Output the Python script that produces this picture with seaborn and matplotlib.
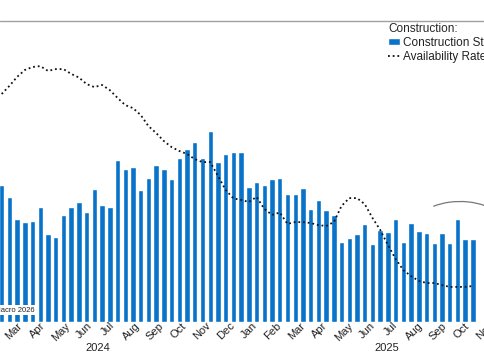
import pandas as pd
import seaborn as sns
import matplotlib.pyplot as plt
from matplotlib.lines import Line2D
from matplotlib.patches import Arc

# construction starts (bars) and availability rate (dotted line), one value per period
starts = [13.7, 12.5, 10.3, 10.0, 10.1, 11.5, 8.8, 8.5, 10.7, 11.5,
          12.0, 11.0, 13.3, 11.7, 11.5, 16.2, 15.3, 15.5, 13.2, 14.4,
          15.7, 15.3, 14.3, 16.4, 17.3, 18.0, 16.4, 19.1, 16.0, 16.8,
          17.0, 17.0, 13.5, 14.0, 13.7, 14.3, 14.4, 12.8, 12.8, 13.4,
          11.3, 12.2, 11.2, 10.7, 8.0, 8.4, 8.8, 9.8, 7.8, 9.2,
          9.0, 10.3, 8.0, 9.9, 9.1, 8.9, 7.9, 8.9, 7.9, 10.3,
          8.3, 8.3]
rate = [7.60, 7.87, 8.17, 8.40, 8.50, 8.53, 8.37, 8.43, 8.43, 8.27,
        8.15, 7.93, 7.83, 7.90, 7.73, 7.47, 7.23, 7.13, 6.90, 6.53,
        6.30, 6.03, 5.83, 5.70, 5.60, 5.43, 5.33, 5.33, 4.87, 4.40,
        4.12, 4.07, 4.00, 4.17, 3.77, 3.57, 3.65, 3.27, 3.33, 3.33,
        3.30, 3.23, 3.20, 3.33, 3.87, 4.13, 4.13, 3.93, 3.47, 3.07,
        2.57, 2.10, 1.73, 1.53, 1.37, 1.30, 1.30, 1.23, 1.17, 1.17,
        1.17, 1.20]
months = ['Mar', 'Apr', 'May', 'Jun', 'Jul', 'Aug', 'Sep', 'Oct', 'Nov', 'Dec',
          'Jan', 'Feb', 'Mar', 'Apr', 'May', 'Jun', 'Jul', 'Aug', 'Sep', 'Oct', 'Nov']
years = ['2024', '2025']

df = pd.DataFrame({'period': range(len(starts)), 'starts': starts, 'rate': rate})

sns.set_style('white')
plt.rcParams['font.family'] = ['Liberation Sans', 'DejaVu Sans']

W, H = 485, 360
fig = plt.figure(figsize=(W / 100, H / 100), dpi=100)
ax = fig.add_axes([0, (H - 322) / H, 1, 302 / H])

blue = '#0873c9'
sns.barplot(data=df, x='period', y='starts', color=blue, saturation=1,
            width=0.7, ax=ax)
ax2 = ax.twinx()
sns.lineplot(data=df, x='period', y='rate', ax=ax2, color='#111111',
             linestyle=(0, (1, 1.6)), linewidth=1.3)

# pixel layout: first bar centre at 1.7px, 7.9px pitch
pitch, x0 = 7.9, 1.7
ax.set_xlim(-x0 / pitch, (W - x0) / pitch)
ax.set_ylim(0, 30.2)
ax2.set_ylim(0, 302 / 30)

tick_pos = [(14 + 24.1 * k - x0) / pitch for k in range(len(months))]
ax.set_xticks(tick_pos)
ax.set_xticklabels(months, rotation=45, ha='center', fontsize=8, color='#222222')
ax.tick_params(axis='x', length=0, pad=-1)
ax.set_yticks([])
ax2.set_yticks([])
for a in (ax, ax2):
    a.set_xlabel('')
    a.set_ylabel('')
    for s in a.spines.values():
        s.set_visible(False)

fig.text(98 / W, 1 - 348 / H, years[0], ha='center', va='center', fontsize=8, color='#222222')
fig.text(386.5 / W, 1 - 348 / H, years[1], ha='center', va='center', fontsize=8, color='#222222')

# top rule
fig.add_artist(Line2D([0, 1], [1 - 20.5 / H, 1 - 20.5 / H], color='#a0a0a0', linewidth=1,
                      transform=fig.transFigure))

# annotation arc
fig.add_artist(Arc((4.60, (H - 226.5) / 100), 0.90, 0.50, theta1=20, theta2=143,
                   color='#777777', linewidth=0.9, transform=fig.dpi_scale_trans))

fig.text(35 / W, 1 - 310 / H, 'Source: Macro 2026', ha='right', va='center', fontsize=5.5,
         color='#222222', bbox=dict(facecolor='white', edgecolor='none', pad=1.2))

handles = [ax.containers[0], ax2.lines[0]]
fig.legend(handles, ['Construction Starts', 'Availability Rate'], title='Construction:',
           loc='upper left', bbox_to_anchor=(388 / W, 1 - 23 / H), frameon=False,
           fontsize=8.5, title_fontsize=8.5, alignment='left', borderpad=0,
           borderaxespad=0, handlelength=1.0, handleheight=0.5, handletextpad=0.3,
           labelspacing=0.15, labelcolor='#222222')

plt.savefig('out.png', dpi=100)
